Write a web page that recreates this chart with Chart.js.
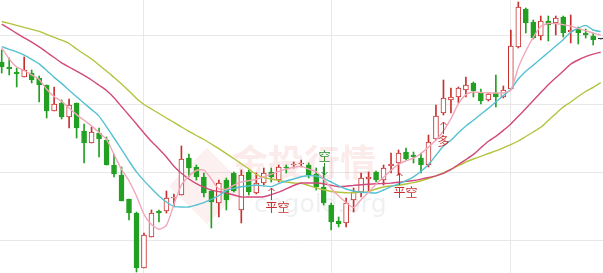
<!DOCTYPE html>
<html lang="zh">
<head>
<meta charset="UTF-8">
<title>K线图</title>
<style>
  html, body { margin: 0; padding: 0; background: #fff; }
  #wrap { width: 603px; height: 273px; }
</style>
<script src="https://cdn.jsdelivr.net/npm/chart.js@4"></script>
</head>
<body>
<div id="wrap"><canvas id="kline" width="603" height="273"></canvas></div>
<script>
  // candles, index 0..80 (price units are relative, no axis labels in the source)
  const openPrices = [211,206,201,196,200,195,188,162,170,156,
    170,142,130,140,133,108,98,74,60,5,
    36,62,62,75,78,115,106,96,82,70,
    93,100,63,101,80,90,101,93,106,108,
    109,108,99,86,68,52,50,73,81,94,
    101,93,107,110,121,118,115,108,134,160,
    173,176,183,190,180,173,180,176,184,226,
    264,251,237,252,250,256,241,244,240,237,
    234];
  const closePrices = [206,204,199,203,193,188,162,169,156,168,
    145,130,141,134,108,99,72,60,5,38,
    60,60,75,76,114,105,96,80,71,90,
    73,82,98,81,90,100,96,106,105,109,
    110,98,86,70,51,49,70,81,95,96,
    93,105,109,120,114,116,108,131,157,175,
    176,185,188,182,172,179,176,183,227,266,
    250,235,252,248,255,240,243,240,238,233,
    234];
  const highPrices = [223,215,205,216,203,197,188,186,173,174,
    170,149,146,145,136,119,106,74,61,40,
    63,63,82,79,127,119,108,100,83,93,
    95,101,103,103,100,105,105,108,108,111,
    113,110,105,106,70,56,75,85,100,101,
    102,108,120,123,125,121,120,138,168,193,
    185,186,196,191,184,180,198,187,243,271,
    265,253,257,257,257,257,258,246,244,240,
    234];
  const lowPrices = [200,198,186,196,190,171,155,162,154,145,
    135,110,130,116,108,96,72,53,1,5,
    36,51,60,66,78,96,93,76,45,56,
    63,81,50,78,79,88,91,91,100,105,
    106,95,83,68,43,46,46,61,76,81,
    91,88,100,98,113,110,100,106,133,158,
    160,170,176,176,169,172,166,175,183,225,
    240,234,233,232,238,236,230,229,235,228,
    234];

  // moving averages
  const ma5 = [225,214,206,202.5,198.2,193.6,183.7,176.4,171.6,165,
    158.4,152.7,147.1,140.4,133.6,118.5,103.7,92.2,77,58.6,
    48.5,43.8,47.7,68.6,88,97,102.5,103,94,84,
    83.8,87.9,91,92.4,93.5,96.3,98.8,101.5,103.8,105.7,
    106.6,103.9,101.3,93.7,84.8,76.9,70.5,65.4,73.3,80.7,
    89.1,95.8,102.6,108.8,112.1,114.8,119.5,125.9,133,142,
    154.3,169.4,178.4,181,180.5,180,180,180,183,205.5,
    222,235.7,246.4,249.5,249.3,248.4,246.9,244.6,242.3,239.9,
    238];
  const ma10 = [226.3,223.7,221.1,217.8,213.7,209.1,202.5,195.6,189.6,182.7,
    176.2,169.8,163.4,156.9,146.2,135,123.7,112,101.1,92.4,
    84.5,77,71,66.6,66,66,68,70.4,73.6,77.3,
    82.5,84.6,86.2,87,88,87,86.4,89.4,92,94,
    96.2,97.3,97,94.3,91,87.2,84,82,80.8,80.4,
    80,83,86.3,89,92.4,96.2,101.7,108.6,117.7,126.9,
    132.8,140.2,147,152.7,158.7,164.6,171,177.4,183.8,194,
    201.8,207.9,214.2,220.5,227,233.3,240.8,244.8,247.6,243,
    241.4];
  const ma20 = [248.8,244.3,239.7,235.2,230.8,226.1,220.8,215.5,210.1,206,
    201.8,197.6,193,187.7,182.5,175.3,166.5,157.7,149,140,
    131.5,124,116,106.8,99.7,94,89.4,85.8,82.8,81.4,
    80,78,76,76,76,76.2,78.4,80.8,84.2,87.5,
    90,90,90,89.3,87.8,86.3,86.7,87.6,88.2,88.7,
    89.2,89.5,89.9,90.7,91.6,92.5,93.9,95.5,97.1,99.7,
    103.6,108.5,113.4,118.6,125.3,131.7,136.6,142.6,149,156.7,
    164.5,172.5,180.4,188.2,195.2,202,208.9,213,216.3,218.8,
    220.8];
  const ma60 = [251.5,249.6,247.6,245.6,243.6,241.6,238.7,235.7,232.8,229.5,
    224,219,214,208,202,195.5,189,182,174.5,168.5,
    164,159.5,155,150.7,146,141.7,137.5,133.5,129,124.3,
    119.4,114.5,109.2,104,98.5,95.3,94,92.6,91,90,
    89.7,87.5,85.2,83.3,81.5,80.7,80.2,80.2,80.7,81.4,
    84,86,87,87.8,89,90.4,92.2,94.5,97.2,100.3,
    103.5,107.3,111,114,116.7,119.5,122.2,125.2,128.4,132,
    136.5,141,145.7,152.5,159.3,166,171,176.5,181.5,185.7,
    190.3];

  // grid lines (candle index / price level)
  const gridIndex = [19, 44, 68];
  const gridPrice = [33, 101, 169, 237];

  // trade signals
  const signalIndex = [36, 43, 53, 59];
  const signalLabel = ['平空', '空', '平空', '多'];
  const signalPrice = [85, 98, 100, 151];
  const signalBelow = [true, false, true, true];

  const RED = '#c8302e';
  const GREEN = '#22a022';

  const candleColor = (i) => {
    if (closePrices[i] > openPrices[i]) return RED;
    if (closePrices[i] < openPrices[i]) return GREEN;
    return '#222';
  };

  const bodies = openPrices.map((o, i) => ({ x: i, y: [o, closePrices[i]] }));
  const wicks = lowPrices.map((l, i) => ({ x: i, y: [l, highPrices[i]] }));
  const colors = openPrices.map((o, i) => candleColor(i));
  const fills = openPrices.map((o, i) => closePrices[i] > o ? '#ffffff' : colors[i]);

  const line = (label, values, color, order) => ({
    type: 'line',
    label: label,
    data: values.map((v, i) => ({ x: i, y: v })),
    borderColor: color,
    borderWidth: 1.4,
    pointRadius: 0,
    tension: 0.2,
    order: order
  });

  const watermark = {
    id: 'watermark',
    beforeDatasetsDraw(chart) {
      const ctx = chart.ctx;
      ctx.save();
      ctx.translate(207, 186);
      ctx.rotate(Math.PI / 4);
      ctx.fillStyle = 'rgba(225, 110, 110, 0.10)';
      ctx.fillRect(-27, -27, 54, 54);
      ctx.restore();
      ctx.save();
      ctx.fillStyle = 'rgba(225, 110, 110, 0.14)';
      ctx.font = 'bold 36px "Noto Sans CJK SC"';
      ctx.textBaseline = 'middle';
      ctx.fillText('金投行情', 232, 162);
      ctx.fillStyle = 'rgba(150, 160, 175, 0.16)';
      ctx.font = '25px "DejaVu Sans"';
      ctx.fillText('cngold.org', 254, 205);
      ctx.restore();
    }
  };

  const signals = {
    id: 'signals',
    afterDatasetsDraw(chart) {
      const ctx = chart.ctx;
      const xs = chart.scales.x, ys = chart.scales.y;
      ctx.save();
      ctx.font = '12px "Noto Sans CJK SC"';
      ctx.textAlign = 'center';
      ctx.textBaseline = 'middle';
      ctx.lineWidth = 1;
      signalIndex.forEach((idx, k) => {
        const x = Math.round(xs.getPixelForValue(idx)) + 0.5;
        const tip = ys.getPixelForValue(signalPrice[k]);
        const dir = signalBelow[k] ? 1 : -1;
        const color = signalLabel[k] === '空' ? '#2a8a2a' : RED;
        ctx.strokeStyle = color;
        ctx.fillStyle = color;
        ctx.beginPath();
        ctx.moveTo(x, tip);
        ctx.lineTo(x, tip + dir * 12);
        ctx.moveTo(x - 3, tip + dir * 3);
        ctx.lineTo(x, tip);
        ctx.lineTo(x + 3, tip + dir * 3);
        ctx.stroke();
        const tx = x + (signalLabel[k].length - 1) * 6;
        ctx.fillText(signalLabel[k], tx, tip + dir * 19);
      });
      ctx.restore();
    }
  };

  new Chart(document.getElementById('kline'), {
    type: 'bar',
    data: {
      datasets: [
        line('MA5', ma5, '#f2a7b9', 0),
        line('MA10', ma10, '#55c1d3', 0),
        line('MA20', ma20, '#d24a7c', 0),
        line('MA60', ma60, '#b5c23e', 0),
        {
          label: 'body',
          data: bodies,
          backgroundColor: fills,
          borderColor: colors,
          borderWidth: 1,
          borderSkipped: false,
          barThickness: 5,
          minBarLength: 1,
          grouped: false,
          order: 1
        },
        {
          label: 'wick',
          data: wicks,
          backgroundColor: colors,
          borderWidth: 0,
          barThickness: 1,
          grouped: false,
          order: 2
        }
      ]
    },
    options: {
      responsive: false,
      animation: false,
      devicePixelRatio: 1,
      layout: { padding: 0 },
      plugins: {
        legend: { display: false },
        tooltip: { enabled: false }
      },
      scales: {
        x: {
          type: 'linear',
          offset: false,
          min: -0.23,
          max: 80.31,
          ticks: { display: false },
          grid: { color: '#e8e8e8', drawTicks: false, offset: false },
          border: { display: false },
          afterBuildTicks: (axis) => { axis.ticks = gridIndex.map(v => ({ value: v })); }
        },
        y: {
          min: 0,
          max: 273,
          ticks: { display: false },
          grid: { color: '#e8e8e8', drawTicks: false },
          border: { display: false },
          afterBuildTicks: (axis) => { axis.ticks = gridPrice.map(v => ({ value: v })); }
        }
      }
    },
    plugins: [watermark, signals]
  });
</script>
</body>
</html>
